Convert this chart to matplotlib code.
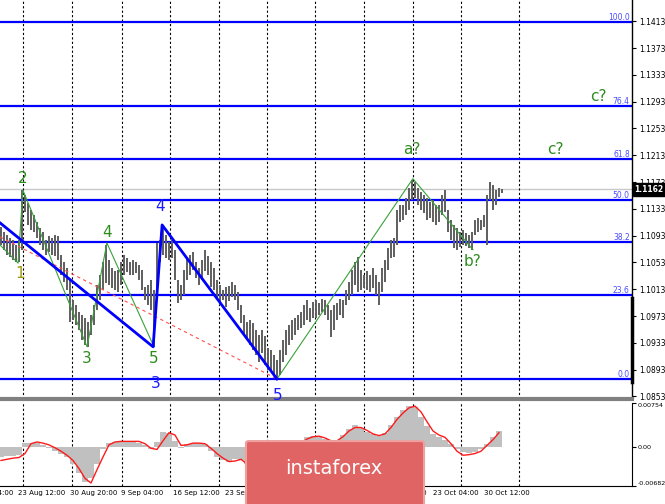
import matplotlib
matplotlib.use('Agg')
import matplotlib.pyplot as plt
import matplotlib.transforms as mtransforms
from matplotlib.patches import FancyBboxPatch

# H4 bars (highs / lows), one every bar index
bar_high = [
    1.1106, 1.1098, 1.1094, 1.1090, 1.1087, 1.1079, 1.1087, 1.1161, 1.1154, 1.1142,
    1.1131, 1.1124, 1.1113, 1.1104, 1.1098, 1.1087, 1.1093, 1.1090, 1.1094, 1.1093,
    1.1064, 1.1054, 1.1045, 1.1027, 1.0997, 1.0989, 1.0979, 1.0975, 1.0970, 1.0964,
    1.0975, 1.0989, 1.1019, 1.1034, 1.1054, 1.1079, 1.1057, 1.1045, 1.1040, 1.1042,
    1.1054, 1.1064, 1.1060, 1.1054, 1.1057, 1.1054, 1.1049, 1.1042, 1.1016, 1.1019,
    1.1027, 1.1012, 1.1082, 1.1087, 1.1106, 1.1094, 1.1084, 1.1087, 1.1072, 1.1027,
    1.1019, 1.1042, 1.1060, 1.1064, 1.1069, 1.1054, 1.1045, 1.1057, 1.1072, 1.1063,
    1.1054, 1.1045, 1.1027, 1.1019, 1.1012, 1.1016, 1.1018, 1.1024, 1.1019, 1.1009,
    1.0989, 1.0975, 1.0964, 1.0967, 1.0963, 1.0952, 1.0945, 1.0952, 1.0943, 1.0925,
    1.0922, 1.0915, 1.0907, 1.0922, 1.0937, 1.0952, 1.0960, 1.0967, 1.0970, 1.0975,
    1.0979, 1.0989, 1.0997, 1.0985, 1.0994, 1.0997, 1.0992, 1.0998, 1.0997, 1.0989,
    1.0982, 1.0989, 1.0992, 1.0998, 1.0997, 1.1012, 1.1024, 1.1042, 1.1054, 1.1061,
    1.1042, 1.1034, 1.1040, 1.1034, 1.1045, 1.1034, 1.1024, 1.1045, 1.1057, 1.1075,
    1.1087, 1.1090, 1.1131, 1.1139, 1.1139, 1.1149, 1.1164, 1.1176, 1.1173, 1.1164,
    1.1158, 1.1154, 1.1149, 1.1143, 1.1146, 1.1139, 1.1139, 1.1154, 1.1161, 1.1131,
    1.1116, 1.1109, 1.1104, 1.1098, 1.1101, 1.1097, 1.1094, 1.1098, 1.1116, 1.1119,
    1.1116, 1.1124, 1.1154, 1.1173, 1.1169, 1.1161, 1.1164, 1.1163,
]
bar_low = [
    1.1079, 1.1072, 1.1064, 1.1061, 1.1057, 1.1054, 1.1054, 1.1072, 1.1128, 1.1109,
    1.1101, 1.1098, 1.1090, 1.1079, 1.1072, 1.1064, 1.1069, 1.1064, 1.1063, 1.1057,
    1.1034, 1.1024, 1.1012, 1.0964, 1.0967, 1.0960, 1.0952, 1.0937, 1.0930, 1.0927,
    1.0945, 1.0960, 1.0982, 1.0997, 1.1012, 1.1022, 1.1019, 1.1015, 1.1012, 1.1009,
    1.1019, 1.1034, 1.1039, 1.1034, 1.1034, 1.1037, 1.1027, 1.1012, 1.0997, 1.0989,
    1.0982, 1.0927, 1.0997, 1.1054, 1.1064, 1.1060, 1.1057, 1.1060, 1.1027, 1.0992,
    1.0997, 1.1004, 1.1027, 1.1034, 1.1042, 1.1030, 1.1019, 1.1027, 1.1040, 1.1034,
    1.1016, 1.1012, 1.0998, 1.0989, 1.0997, 1.0986, 1.0995, 1.1001, 1.0997, 1.0982,
    1.0963, 1.0945, 1.0937, 1.0930, 1.0922, 1.0915, 1.0904, 1.0918, 1.0900, 1.0892,
    1.0889, 1.0885, 1.0879, 1.0885, 1.0904, 1.0915, 1.0930, 1.0937, 1.0945, 1.0952,
    1.0955, 1.0960, 1.0967, 1.0964, 1.0970, 1.0970, 1.0975, 1.0979, 1.0975, 1.0967,
    1.0942, 1.0952, 1.0967, 1.0975, 1.0970, 1.0989, 1.0997, 1.1004, 1.1019, 1.1009,
    1.1012, 1.1015, 1.1012, 1.1009, 1.1015, 1.1004, 1.0989, 1.1009, 1.1024, 1.1042,
    1.1060, 1.1061, 1.1079, 1.1113, 1.1116, 1.1124, 1.1131, 1.1146, 1.1149, 1.1139,
    1.1131, 1.1127, 1.1116, 1.1119, 1.1113, 1.1109, 1.1113, 1.1124, 1.1128, 1.1098,
    1.1087, 1.1075, 1.1072, 1.1076, 1.1079, 1.1078, 1.1075, 1.1072, 1.1094, 1.1098,
    1.1101, 1.1106, 1.1079, 1.1146, 1.1131, 1.1139, 1.1151, 1.1157,
]

# MACD histogram and signal, one value every 2 bars
macd_hist = [
    -0.0018, -0.0017, -0.0016, -0.0015, 0.0007, 0.0007, 0.0006, 0.0003, -0.0003, -0.0008,
    -0.0012, -0.0018, -0.0030, -0.0045, -0.0062, -0.0055, -0.0030, -0.0005, 0.0006, 0.0008,
    0.0009, 0.0009, 0.0009, 0.0007, 0.0002, -0.0005, 0.0008, 0.0025, 0.0024, 0.0010,
    -0.0003, 0.0005, 0.0007, 0.0006, 0.0004, -0.0008, -0.0018, -0.0024, -0.0026, -0.0022,
    -0.0024, -0.0030, -0.0038, -0.0042, -0.0043, -0.0040, -0.0042, -0.0035, -0.0022, -0.0008,
    0.0008, 0.0016, 0.0019, 0.0018, 0.0013, 0.0010, 0.0012, 0.0020, 0.0030, 0.0037,
    0.0032, 0.0026, 0.0022, 0.0018, 0.0024, 0.0038, 0.0052, 0.0063, 0.0070, 0.0068,
    0.0052, 0.0035, 0.0022, 0.0017, 0.0012, 0.0005, -0.0004, -0.0010, -0.0011, -0.0009,
    -0.0005, 0.0005, 0.0016, 0.0027,
]
macd_signal = [
    -0.0024, -0.0022, -0.0020, -0.0019, -0.0012, 0.0005, 0.0008, 0.0006, 0.0003, -0.0002,
    -0.0008, -0.0015, -0.0024, -0.0038, -0.0055, -0.0063, -0.0040, -0.0018, 0.0003, 0.0008,
    0.0009, 0.0009, 0.0009, 0.0009, 0.0005, -0.0003, -0.0005, 0.0010, 0.0024, 0.0020,
    0.0002, 0.0003, 0.0006, 0.0006, 0.0005, -0.0003, -0.0012, -0.0020, -0.0026, -0.0025,
    -0.0022, -0.0030, -0.0038, -0.0044, -0.0046, -0.0042, -0.0045, -0.0038, -0.0025, -0.0010,
    0.0006, 0.0013, 0.0017, 0.0018, 0.0015, 0.0010, 0.0010, 0.0017, 0.0027, 0.0033,
    0.0033, 0.0028, 0.0022, 0.0019, 0.0022, 0.0033, 0.0047, 0.0058, 0.0067, 0.0070,
    0.0060, 0.0043, 0.0027, 0.0020, 0.0016, 0.0005, -0.0008, -0.0015, -0.0014, -0.0012,
    -0.0008, 0.0002, 0.0012, 0.0024,
]

# fibonacci grid
fib_levels = [1.0879, 1.1005, 1.1083, 1.1146, 1.1208, 1.1286, 1.1412]
fib_names = ['0.0', '23.6', '38.2', '50.0', '61.8', '76.4', '100.0']
last_price = 1.1162

# wave counts (bar index, price)
green_x = [-0.3, 5.7, 7.3, 28.7, 35.3, 51.0]
green_y = [1.1079, 1.1052, 1.1161, 1.0927, 1.1082, 1.0927]
abc_x = [92.0, 137.3, 157.3]
abc_y = [1.0879, 1.1178, 1.1072]
blue_x = [-0.3, 50.7, 53.7, 92.0]
blue_y = [1.1112, 1.0927, 1.1109, 1.0879]
red_x = [-0.3, 92.0]
red_y = [1.1091, 1.0879]

GREEN = '#2e8b1e'
BLUE = '#1a1aff'
wave_labels = [
    ('1', 6.3, 1.1037, '#9a9a10'), ('2', 7.3, 1.1179, GREEN),
    ('3', 28.7, 1.0910, GREEN), ('4', 35.3, 1.1097, GREEN), ('5', 51.0, 1.0910, GREEN),
    ('4', 53.0, 1.1137, BLUE), ('3', 51.7, 1.0872, BLUE), ('5', 92.3, 1.0855, BLUE),
    ('a?', 137.0, 1.1221, GREEN), ('b?', 157.0, 1.1055, GREEN),
    ('c?', 184.7, 1.1222, GREEN), ('c?', 199.0, 1.1300, GREEN),
]

grid_bars = [7.5, 23.8, 40.2, 56.2, 72.6, 88.6, 104.8, 120.9, 137.2, 153.4, 172.7]
time_pos = [-11.5, 5.7, 23.0, 40.0, 57.3, 74.7, 92.0, 109.3, 126.7, 144.0, 161.0]
time_labels = ['16 Aug 04:00', '23 Aug 12:00', '30 Aug 20:00', '9 Sep 04:00',
               '16 Sep 12:00', '23 Sep 20:00', '1 Oct 04:00', '8 Oct 12:00',
               '15 Oct 20:00', '23 Oct 04:00', '30 Oct 12:00']
price_ticks = [1.0853, 1.0893, 1.0933, 1.0973, 1.1013, 1.1053, 1.1093, 1.1133,
               1.1173, 1.1213, 1.1253, 1.1293, 1.1333, 1.1373, 1.1413]

W, H = 665, 504
fig = plt.figure(figsize=(W / 100, H / 100), dpi=100)
ax = fig.add_axes([0, 105 / H, 632 / W, 399 / H])
axm = fig.add_axes([0, 18 / H, 632 / W, 83 / H], sharex=ax)

idx = list(range(len(bar_high)))
ax.vlines(idx, bar_low, bar_high, color='#5e5e5e', lw=1.4, zorder=3)

for lv, nm in zip(fib_levels, fib_names):
    ax.axhline(lv, color='#0000ff', lw=1.6, zorder=2)
    ax.text(209.6, lv, nm, color='#4a4aff', fontsize=5.5, ha='right', va='bottom', zorder=4)
ax.axhline(last_price, color='#c8c8c8', lw=1, zorder=1)

ax.plot(green_x, green_y, color='#3aa03a', lw=0.8, zorder=4)
ax.plot(abc_x, abc_y, color='#3aa03a', lw=0.8, zorder=4)
ax.plot(blue_x, blue_y, color='#0000ff', lw=2.0, zorder=5)
ax.plot(red_x, red_y, color='#ff5050', lw=0.8, ls=(0, (3, 3)), zorder=4)

for s, x, y, c in wave_labels:
    ax.text(x, y, s, color=c, fontsize=11, ha='center', va='center', zorder=6)

for gx in grid_bars:
    ax.axvline(gx, color='black', lw=0.8, ls=(0, (2, 2)), zorder=1)
    axm.axvline(gx, color='black', lw=0.8, ls=(0, (2, 2)), zorder=1)

ax.set_xlim(-0.33, 210.33)
ax.set_ylim(1.08491, 1.14448)
ax.yaxis.tick_right()
ax.set_yticks(price_ticks)
ax.set_yticklabels(['%.4f' % t for t in price_ticks])
ax.tick_params(axis='y', length=3, labelsize=5.5, pad=2)
ax.tick_params(axis='x', bottom=False, labelbottom=False)
for sp in ['left', 'top']:
    ax.spines[sp].set_visible(False)
ax.spines['bottom'].set_color('#808080')
ax.spines['bottom'].set_linewidth(3)
ax.spines['right'].set_linewidth(1)

# price tag and scroll marker on the price scale
ax.text(1.004, last_price, '%.4f' % last_price, color='white', fontsize=5.5,
        fontweight='bold', ha='left', va='center',
        transform=mtransforms.blended_transform_factory(ax.transAxes, ax.transData),
        bbox=dict(facecolor='black', edgecolor='black', pad=1.2), zorder=7)
ax.plot([1, 1], [0.043, 0.253], transform=ax.transAxes, color='black', lw=2.5,
        clip_on=False)

macd_x = [2 * k for k in range(len(macd_hist))]
axm.bar(macd_x, macd_hist, width=2.0, color='#c0c0c0', zorder=2)
axm.plot(macd_x, macd_signal, color='#ff1a1a', lw=1, zorder=3)
axm.set_ylim(-0.00682, 0.00754)
axm.yaxis.tick_right()
axm.set_yticks([-0.00682, 0.0, 0.00754])
axm.set_yticklabels(['-0.00682', '0.00', '0.00754'])
axm.tick_params(axis='y', length=3, labelsize=4.6, pad=1)
tl = axm.get_yticklabels()
tl[0].set_va('bottom')
tl[2].set_va('top')
axm.tick_params(axis='x', bottom=False, labelbottom=False)
for sp in ['left', 'top']:
    axm.spines[sp].set_visible(False)

tr = mtransforms.blended_transform_factory(axm.transData, axm.transAxes)
for p, lab in zip(time_pos, time_labels):
    axm.text(p, -0.05, lab, transform=tr, fontsize=5, ha='left', va='top',
             clip_on=False)

logo = FancyBboxPatch((246 / W, -0.02), 178 / W, 73 / H,
                      boxstyle='round,pad=0,rounding_size=0.004',
                      transform=fig.transFigure, facecolor='#e06464',
                      edgecolor='#eea0a0', lw=1.5, zorder=10)
fig.add_artist(logo)
fig.text(334 / W, 36 / H, 'instaforex', color='white', fontsize=14,
         ha='center', va='center', zorder=11)

fig.savefig('out.png', dpi=100)
